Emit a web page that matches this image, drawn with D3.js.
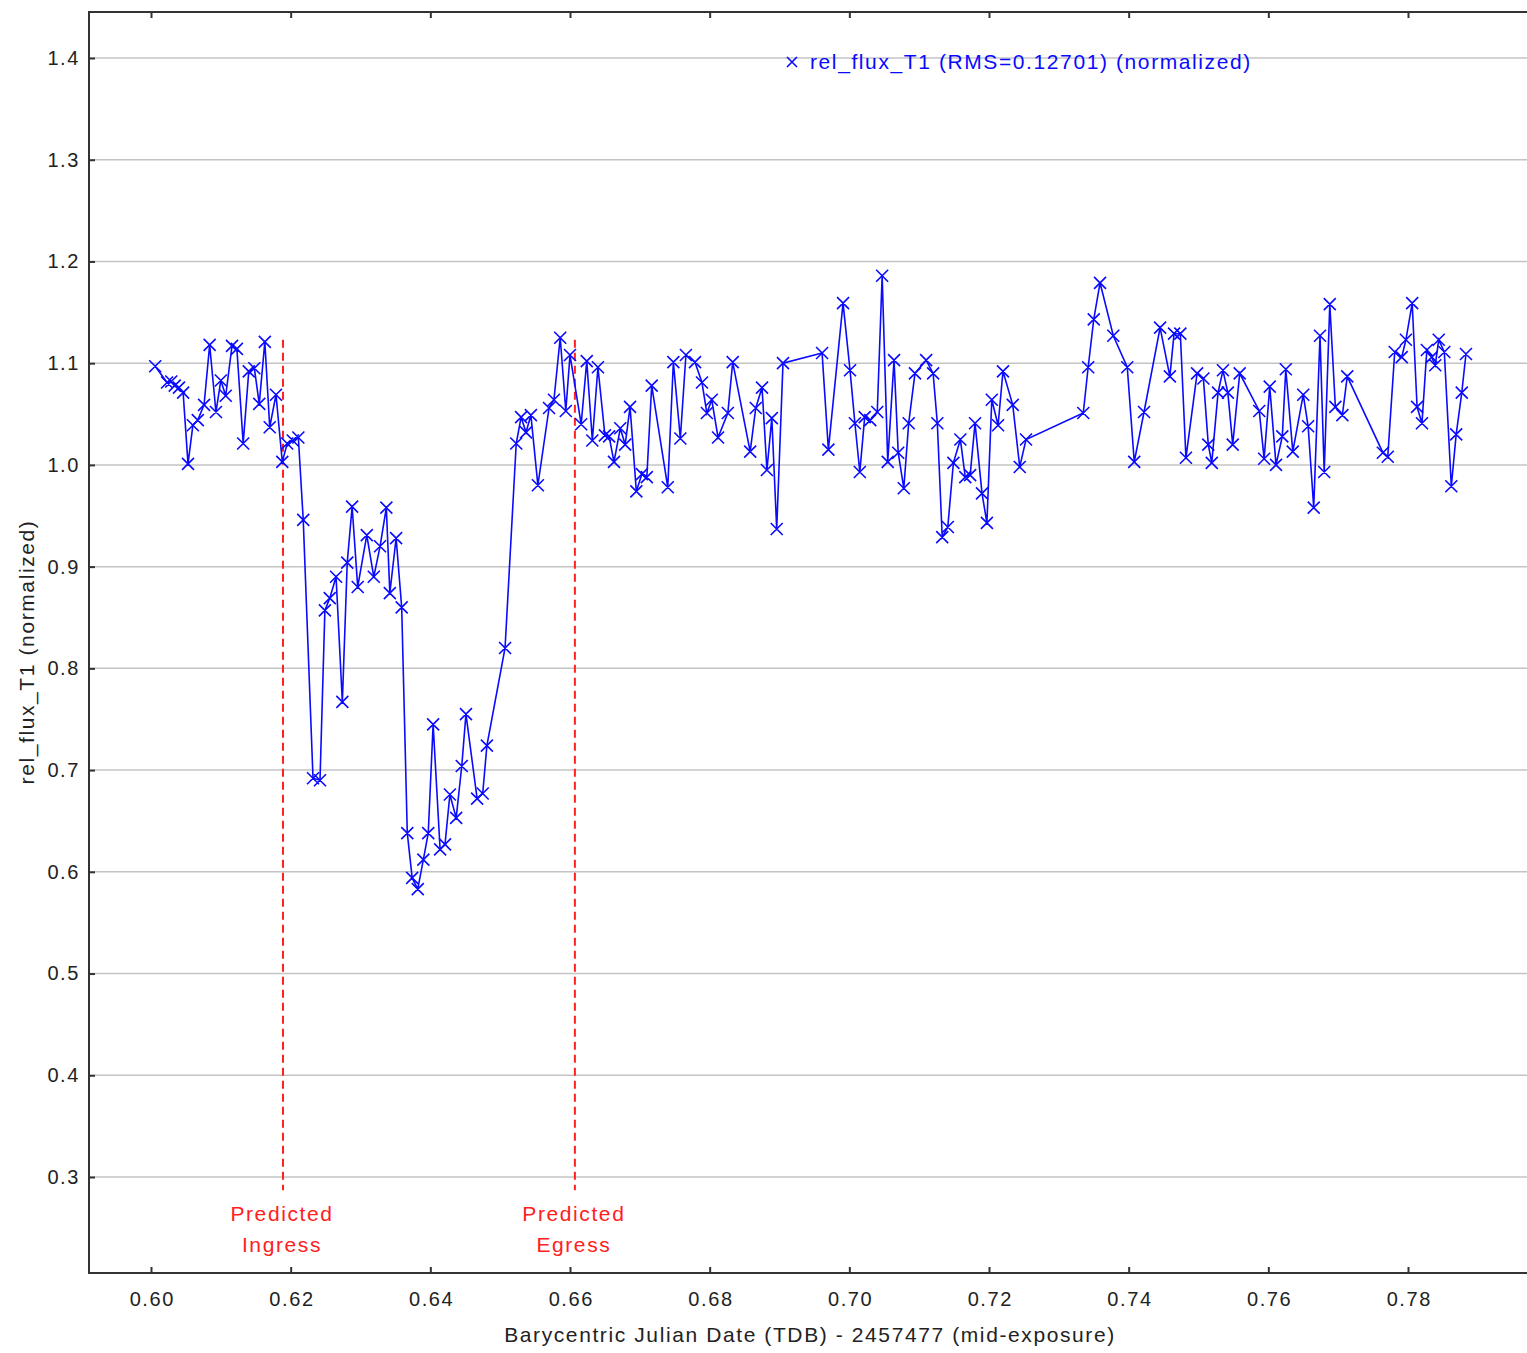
<!DOCTYPE html>
<html lang="en">
<head>
<meta charset="UTF-8">
<title>rel_flux_T1 light curve</title>
<script src="https://d3js.org/d3.v7.min.js"></script>
<style>
  body { margin: 0; background: #fff; }
  svg text { font-family: "Liberation Sans", Arial, sans-serif; letter-spacing: 1.6px; }
</style>
</head>
<body>
<div id="chart"></div>
<script>
// time (BJD_TDB - 2457477) of each exposure
var times = [
  0.6006, 0.6023, 0.6029, 0.6034, 0.6040, 0.6046, 0.6053, 0.6060, 0.6067, 0.6076,
  0.6084, 0.6093, 0.6100, 0.6107, 0.6116, 0.6123, 0.6132, 0.6140, 0.6148, 0.6155,
  0.6163, 0.6170, 0.6179, 0.6188, 0.6195, 0.6203, 0.6211, 0.6218, 0.6232, 0.6242,
  0.6249, 0.6256, 0.6265, 0.6274, 0.6281, 0.6288, 0.6296, 0.6309, 0.6319, 0.6328,
  0.6337, 0.6342, 0.6351, 0.6359, 0.6367, 0.6374, 0.6382, 0.6390, 0.6397, 0.6404,
  0.6414, 0.6421, 0.6428, 0.6437, 0.6445, 0.6451, 0.6467, 0.6475, 0.6481, 0.6507,
  0.6523, 0.6530, 0.6537, 0.6544, 0.6554, 0.6570, 0.6577, 0.6586, 0.6594, 0.6600,
  0.6616, 0.6624, 0.6632, 0.6640, 0.6650, 0.6656, 0.6663, 0.6672, 0.6679, 0.6686,
  0.6695, 0.6703, 0.6710, 0.6717, 0.6740, 0.6748, 0.6758, 0.6766, 0.6779, 0.6789,
  0.6796, 0.6803, 0.6812, 0.6826, 0.6833, 0.6858, 0.6866, 0.6875, 0.6882, 0.6889,
  0.6896, 0.6905, 0.6961, 0.6970, 0.6991, 0.7001, 0.7008, 0.7015, 0.7022, 0.7030,
  0.7040, 0.7047, 0.7055, 0.7064, 0.7070, 0.7078, 0.7085, 0.7094, 0.7110, 0.7120,
  0.7126, 0.7133, 0.7141, 0.7149, 0.7159, 0.7166, 0.7173, 0.7180, 0.7190, 0.7197,
  0.7204, 0.7213, 0.7220, 0.7234, 0.7244, 0.7253, 0.7335, 0.7342, 0.7350, 0.7359,
  0.7378, 0.7398, 0.7408, 0.7422, 0.7445, 0.7459, 0.7465, 0.7474, 0.7482, 0.7498,
  0.7507, 0.7514, 0.7519, 0.7528, 0.7535, 0.7542, 0.7549, 0.7559, 0.7587, 0.7594,
  0.7602, 0.7611, 0.7620, 0.7625, 0.7635, 0.7650, 0.7657, 0.7665, 0.7674, 0.7680,
  0.7688, 0.7696, 0.7706, 0.7713, 0.7764, 0.7771, 0.7781, 0.7791, 0.7797, 0.7806,
  0.7813, 0.7820, 0.7827, 0.7834, 0.7839, 0.7844, 0.7852, 0.7862, 0.7869, 0.7877,
  0.7883
];

// normalized relative flux of T1
var flux = [
  1.097, 1.081, 1.082, 1.078, 1.076, 1.071, 1.001, 1.039, 1.044, 1.059,
  1.118, 1.052, 1.083, 1.068, 1.117, 1.114, 1.021, 1.092, 1.095, 1.060,
  1.121, 1.037, 1.069, 1.003, 1.021, 1.024, 1.027, 0.946, 0.692, 0.690,
  0.857, 0.869, 0.890, 0.767, 0.904, 0.959, 0.880, 0.931, 0.890, 0.920,
  0.958, 0.874, 0.928, 0.860, 0.638, 0.594, 0.583, 0.612, 0.638, 0.745,
  0.622, 0.627, 0.676, 0.653, 0.704, 0.755, 0.672, 0.677, 0.724, 0.820,
  1.021, 1.047, 1.032, 1.049, 0.980, 1.056, 1.064, 1.125, 1.053, 1.108,
  1.040, 1.102, 1.024, 1.096, 1.029, 1.028, 1.003, 1.036, 1.020, 1.057,
  0.974, 0.991, 0.988, 1.078, 0.978, 1.101, 1.026, 1.108, 1.101, 1.081,
  1.051, 1.064, 1.027, 1.051, 1.101, 1.013, 1.056, 1.076, 0.995, 1.046,
  0.937, 1.100, 1.110, 1.015, 1.159, 1.093, 1.041, 0.993, 1.047, 1.044,
  1.052, 1.186, 1.003, 1.103, 1.012, 0.977, 1.041, 1.090, 1.103, 1.090,
  1.041, 0.929, 0.939, 1.002, 1.025, 0.988, 0.990, 1.041, 0.972, 0.943,
  1.064, 1.039, 1.092, 1.059, 0.998, 1.025, 1.051, 1.096, 1.143, 1.179,
  1.127, 1.096, 1.003, 1.052, 1.135, 1.087, 1.129, 1.129, 1.007, 1.090,
  1.085, 1.020, 1.002, 1.071, 1.093, 1.071, 1.020, 1.090, 1.053, 1.006,
  1.077, 1.000, 1.028, 1.094, 1.013, 1.069, 1.038, 0.958, 1.127, 0.993,
  1.158, 1.057, 1.049, 1.087, 1.012, 1.008, 1.111, 1.106, 1.123, 1.159,
  1.057, 1.041, 1.113, 1.106, 1.098, 1.123, 1.111, 0.979, 1.030, 1.071,
  1.109
];

var xTicks = [0.60, 0.62, 0.64, 0.66, 0.68, 0.70, 0.72, 0.74, 0.76, 0.78];
var yTicks = [0.3, 0.4, 0.5, 0.6, 0.7, 0.8, 0.9, 1.0, 1.1, 1.2, 1.3, 1.4];

// predicted ingress / egress markers
var markerTimes = [0.6189, 0.6607];
var markerNames = [["Predicted", "Ingress"], ["Predicted", "Egress"]];
var markerTop = 1.123, markerBottom = 0.287;

var legendText = "rel_flux_T1 (RMS=0.12701) (normalized)";

var W = 1527, H = 1353;
var plot = { left: 89, top: 12, right: 1545, bottom: 1273 };

var svg = d3.select("#chart").append("svg")
  .attr("width", W)
  .attr("height", H);

var x = d3.scaleLinear().domain([0.60, 0.78]).range([151, 1408]);
var y = d3.scaleLinear().domain([0.3, 1.4]).range([1177, 58]);

svg.append("clipPath").attr("id", "clip")
  .append("rect")
  .attr("x", plot.left).attr("y", plot.top)
  .attr("width", plot.right - plot.left).attr("height", plot.bottom - plot.top);

// horizontal gridlines
svg.append("g").selectAll("line")
  .data(yTicks)
  .enter().append("line")
  .attr("x1", plot.left).attr("x2", plot.right)
  .attr("y1", function(d) { return y(d); })
  .attr("y2", function(d) { return y(d); })
  .attr("stroke", "#c4c4c4")
  .attr("stroke-width", 1.5);

// frame
svg.append("path")
  .attr("d", "M" + plot.right + "," + plot.top + "H" + plot.left + "V" + plot.bottom + "H" + plot.right)
  .attr("fill", "none")
  .attr("stroke", "#333")
  .attr("stroke-width", 2);

// axes, ticks pointing inward
var tickColor = "#333";
var bottomAxis = svg.append("g")
  .attr("transform", "translate(0," + plot.bottom + ")")
  .call(d3.axisBottom(x).tickValues(xTicks).tickSize(-6).tickPadding(19).tickFormat(d3.format(".2f")));
var topAxis = svg.append("g")
  .attr("transform", "translate(0," + plot.top + ")")
  .call(d3.axisTop(x).tickValues(xTicks).tickSize(-6).tickFormat(""));
var leftAxis = svg.append("g")
  .attr("transform", "translate(" + plot.left + ",0)")
  .call(d3.axisLeft(y).tickValues(yTicks).tickSize(-6).tickPadding(9).tickFormat(d3.format(".1f")));

[bottomAxis, topAxis, leftAxis].forEach(function(a) {
  a.select(".domain").remove();
  a.selectAll(".tick line").attr("stroke", tickColor).attr("stroke-width", 2);
  a.selectAll(".tick text")
    .attr("fill", "#222")
    .style("font-size", "20px")
    .style("font-family", "'Liberation Sans', Arial, sans-serif");
});
bottomAxis.selectAll(".tick text").attr("dx", "0.8px");

// axis titles
svg.append("text")
  .attr("x", 810).attr("y", 1342)
  .attr("text-anchor", "middle")
  .attr("fill", "#222")
  .style("font-size", "21px")
  .text("Barycentric Julian Date (TDB) - 2457477 (mid-exposure)");

svg.append("text")
  .attr("transform", "translate(34,652) rotate(-90)")
  .attr("text-anchor", "middle")
  .attr("fill", "#222")
  .style("font-size", "21px")
  .text("rel_flux_T1 (normalized)");

// predicted ingress / egress
svg.append("g").selectAll("line")
  .data(markerTimes)
  .enter().append("line")
  .attr("x1", function(d) { return x(d); })
  .attr("x2", function(d) { return x(d); })
  .attr("y1", y(markerTop))
  .attr("y2", y(markerBottom))
  .attr("stroke", "#ff2020")
  .attr("stroke-width", 2)
  .attr("stroke-dasharray", "8,5");

markerTimes.forEach(function(t, i) {
  var lbl = svg.append("text")
    .attr("x", x(t) - 2)
    .attr("y", 1221)
    .attr("text-anchor", "middle")
    .attr("fill", "#ff2020")
    .style("font-size", "21px");
  lbl.append("tspan").attr("x", x(t) - 1).attr("dy", 0).text(markerNames[i][0]);
  lbl.append("tspan").attr("x", x(t) - 1).attr("dy", 31).text(markerNames[i][1]);
});

// light curve
var data = times.map(function(t, i) { return { t: t, f: flux[i] }; });
var blue = "#0a0aff";

var g = svg.append("g").attr("clip-path", "url(#clip)");

g.append("path")
  .datum(data)
  .attr("fill", "none")
  .attr("stroke", blue)
  .attr("stroke-width", 1.6)
  .attr("d", d3.line()
    .x(function(d) { return x(d.t); })
    .y(function(d) { return y(d.f); }));

g.append("path")
  .attr("fill", "none")
  .attr("stroke", blue)
  .attr("stroke-width", 1.6)
  .attr("d", data.map(function(d) {
    var cx = x(d.t), cy = y(d.f), s = 6;
    return "M" + (cx - s) + "," + (cy - s) + "L" + (cx + s) + "," + (cy + s) +
           "M" + (cx - s) + "," + (cy + s) + "L" + (cx + s) + "," + (cy - s);
  }).join(""));

// legend
var s = 5, lx = 792, ly = 62;
svg.append("path")
  .attr("d", "M" + (lx - s) + "," + (ly - s) + "L" + (lx + s) + "," + (ly + s) +
             "M" + (lx - s) + "," + (ly + s) + "L" + (lx + s) + "," + (ly - s))
  .attr("stroke", blue)
  .attr("stroke-width", 1.6);
svg.append("text")
  .attr("x", 810).attr("y", 69)
  .attr("fill", blue)
  .style("font-size", "21px")
  .text(legendText);
</script>
</body>
</html>
